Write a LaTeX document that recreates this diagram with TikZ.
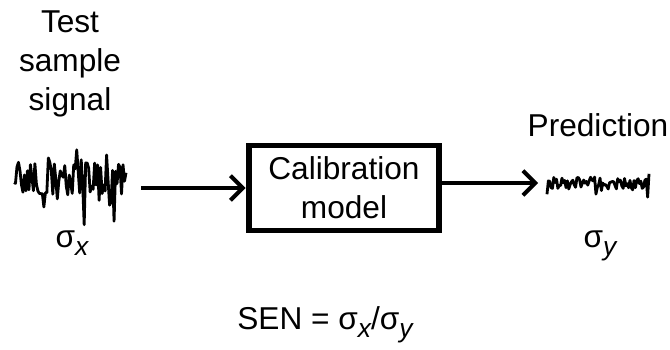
\documentclass[tikz,border=0pt]{standalone}
\usepackage{fontspec}
\setmainfont{Liberation Sans}
\usetikzlibrary{arrows.meta, positioning}
\newcommand{\sdev}[1]{σ\raisebox{-0.5ex}{\fontsize{15}{15}\selectfont\itshape #1}}

\begin{document}
\begin{tikzpicture}[x=0.02cm, y=0.02cm, font=\fontsize{18}{22.2}\selectfont]
\tikzstyle{box} = [rectangle, draw=black, line width=3.4pt, minimum width=3.82cm, minimum height=1.7cm, align=center, text centered]
\tikzstyle{trace} = [rectangle, inner sep=0pt]
\tikzstyle{noise} = [line width=1.6pt, line join=round]
\tikzstyle{arrow} = [line width=2.3pt, -{Straight Barb[length=7pt,width=14pt]}]

\useasboundingbox (0,0) rectangle (670,349);

\node (model) [box] at (344,161) {Calibration\\model};

% input and output traces
\node (sigin) [trace, minimum width=2.84cm, minimum height=1.8cm] at (70,172) {};
\node (sigout) [trace, minimum width=2.38cm, minimum height=0.6cm] at (598,166) {};

\pgfmathsetseed{11}
\draw [noise, shift={(sigin.center)}] plot[domain=-56:56, samples=76] (\x, {18*rand + 36*(rnd>0.78)*rand});
\draw [noise, shift={(sigout.center)}] plot[domain=-51:51, samples=76] (\x, {6*rand + 9*(rnd>0.8)*rand});

\node (input) [align=center] at (70,285) {Test\\sample\\signal};
\node (output) at (598,224) {Prediction};
\node (sx) at (72,106) {\sdev{x}};
\node (sy) at (600,103) {\sdev{y}};
\node (sen) at (325,24) {SEN = σ\raisebox{-0.5ex}{\fontsize{15}{15}\selectfont\itshape x}/\sdev{y}};

\draw [arrow] (sigin.east |- model.west) -- (model.west);
\draw [arrow] (model.east |- sigout.west) -- (sigout.west);

\end{tikzpicture}
\end{document}
